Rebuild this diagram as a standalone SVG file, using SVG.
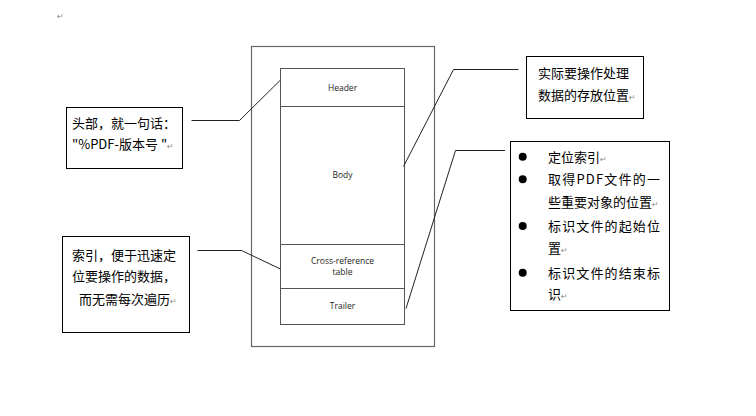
<svg xmlns="http://www.w3.org/2000/svg" width="756" height="416" viewBox="0 0 756 416">
<style>
.box{fill:#fff;stroke:#000;stroke-width:1}
.frame{fill:none;stroke:#666;stroke-width:1.2}
.cell{fill:#fff;stroke:#555;stroke-width:1}
.conn{fill:none;stroke:#222;stroke-width:1}
.cn{font-family:"Noto Sans CJK SC","Liberation Sans",sans-serif;font-size:13px;fill:#000}
.lbl{font-family:"Open Sans","Noto Sans",sans-serif;font-size:8.5px;fill:#222;text-anchor:middle}
.rm{font-family:"DejaVu Sans",sans-serif;font-size:8px;fill:#888}
.dot{fill:#000}
</style>
<text class="rm" x="57" y="19">↵</text>
<g id="pdf-structure">
<rect class="frame" x="251.5" y="46.5" width="183" height="300"/>
<g id="header"><rect class="cell" x="280.5" y="68.5" width="124" height="38"/><text class="lbl" x="342.5" y="91">Header</text></g>
<g id="body"><rect class="cell" x="280.5" y="106.5" width="124" height="138"/><text class="lbl" x="342.5" y="178">Body</text></g>
<g id="xref"><rect class="cell" x="280.5" y="244.5" width="124" height="44"/><text class="lbl" x="342.5" y="264">Cross-reference</text><text class="lbl" x="342.5" y="275">table</text></g>
<g id="trailer"><rect class="cell" x="280.5" y="288.5" width="124" height="36"/><text class="lbl" x="342.5" y="309">Trailer</text></g>
</g>
<g id="connectors">
<polyline class="conn" points="191.5,120.5 239.5,120.5 280.5,80"/>
<polyline class="conn" points="197.5,250.5 241.5,250.5 280.5,269"/>
<polyline class="conn" points="518.5,69.5 453.5,69.5 403.5,166.5"/>
<polyline class="conn" points="505,150.5 455.5,150.5 406,308.5"/>
</g>
<g id="note-header">
<rect class="box" x="66.5" y="107.5" width="116" height="61"/>
<text class="cn" x="72" y="128">头部，就一句话：</text>
<text class="cn" x="72" y="149">"%PDF-版本号 "<tspan class="rm">↵</tspan></text>
</g>
<g id="note-xref">
<rect class="box" x="62.5" y="236.5" width="127" height="96"/>
<text class="cn" x="72" y="259.5">索引，便于迅速定</text>
<text class="cn" x="72" y="280.5">位要操作的数据，</text>
<text class="cn" x="79" y="303.5">而无需每次遍历<tspan class="rm">↵</tspan></text>
</g>
<g id="note-body">
<rect class="box" x="526.5" y="56.5" width="117" height="62"/>
<text class="cn" x="538" y="78">实际要操作处理</text>
<text class="cn" x="538" y="100">数据的存放位置<tspan class="rm">↵</tspan></text>
</g>
<g id="note-trailer">
<rect class="box" x="510.5" y="141.5" width="159" height="169"/>
<circle class="dot" cx="522.7" cy="156.7" r="4"/>
<circle class="dot" cx="522.7" cy="179.3" r="4"/>
<circle class="dot" cx="522.7" cy="226" r="4"/>
<circle class="dot" cx="522.7" cy="272.7" r="4"/>
<text class="cn" x="548" y="161.5">定位索引<tspan class="rm">↵</tspan></text>
<text class="cn" x="548" y="184" textLength="112" lengthAdjust="spacing">取得PDF文件的一</text>
<text class="cn" x="548" y="206.5">些重要对象的位置<tspan class="rm">↵</tspan></text>
<text class="cn" x="548" y="230.5" textLength="112" lengthAdjust="spacing">标识文件的起始位</text>
<text class="cn" x="548" y="253">置<tspan class="rm">↵</tspan></text>
<text class="cn" x="548" y="277.5" textLength="112" lengthAdjust="spacing">标识文件的结束标</text>
<text class="cn" x="548" y="299">识<tspan class="rm">↵</tspan></text>
</g>
</svg>
